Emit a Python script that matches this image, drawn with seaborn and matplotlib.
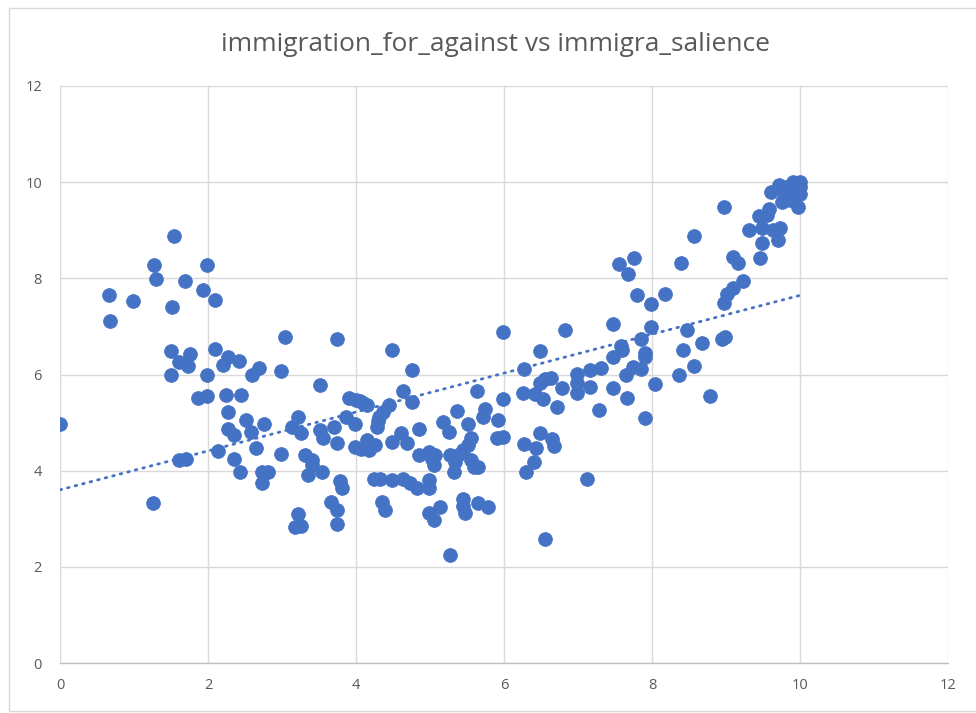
import numpy as np
import pandas as pd
import matplotlib
matplotlib.use("Agg")
import matplotlib.pyplot as plt
import seaborn as sns

# immigra_salience (x) values
salience = [
    0.00, 0.66, 0.68, 0.99, 1.25, 1.27, 1.30, 1.50, 1.50, 1.52, 1.54, 1.61, 1.61, 1.69, 1.70,
    1.73, 1.75, 1.86, 1.93, 1.99, 1.99, 1.99, 2.10, 2.10, 2.14, 2.20, 2.24, 2.27, 2.27, 2.27,
    2.35, 2.35, 2.42, 2.43, 2.45, 2.52, 2.58, 2.59, 2.65, 2.69, 2.73, 2.73, 2.76, 2.81, 2.98,
    2.98,
    3.04, 3.74, 4.49, 4.75, 3.52, 3.91, 4.00, 4.10, 4.15, 4.64, 4.75, 4.44, 4.37, 4.31, 5.36,
    3.21, 3.86, 3.14, 3.25, 3.52, 3.70, 3.56, 3.99, 4.28, 4.85, 5.18, 5.25, 3.74, 3.99, 4.15,
    4.17, 4.26, 4.49, 4.61, 4.69, 3.31, 3.41, 3.41, 3.35, 3.54, 4.85, 4.98, 5.07, 5.05, 5.27,
    5.34, 5.32, 5.45, 5.52, 3.79, 3.81, 4.24, 4.33, 4.49, 4.64, 4.73, 4.82, 4.98, 4.99, 3.66,
    3.74, 4.35, 4.39, 3.22, 3.18, 3.25, 3.74, 4.98, 5.14, 5.06, 5.27, 5.45, 5.45, 5.47,
    5.98, 6.83, 7.47, 6.48, 6.27, 5.64, 5.98, 5.52, 5.74, 5.71, 5.92, 5.90, 5.99, 5.56, 5.38,
    5.56, 5.59, 5.65, 6.26, 6.42, 6.53, 6.49, 6.55, 6.63, 6.72, 6.79, 6.98, 6.98, 6.98, 7.16,
    7.31, 7.16, 7.47, 7.28, 7.47, 7.58, 7.59, 7.65, 7.74, 7.66, 6.27, 6.43, 6.48, 6.65, 6.68,
    6.41, 6.30, 7.12, 5.65, 5.78, 6.56,
    7.76, 7.56, 7.68, 8.39, 8.57, 8.97, 9.09, 9.16, 9.46, 9.23, 9.10, 9.02, 8.97, 7.80, 8.18,
    7.98, 7.98, 8.47, 7.85, 7.90, 7.90, 8.68, 8.95, 8.98, 8.42, 7.85, 8.37, 8.57, 8.04, 8.78,
    7.90,
    9.31, 9.49, 9.63, 9.73, 9.70, 9.49, 9.44, 9.56,
    9.72, 9.90, 9.97, 9.61, 9.79, 9.83, 9.76, 9.87, 9.97, 9.58,
    10.00, 9.93, 9.85, 10.00, 9.80, 9.90, 10.00,
    4.05, 4.30, 4.07, 5.03,
]

# immigration_for_against (y) values
for_against = [
    4.98, 7.65, 7.12, 7.53, 3.32, 8.27, 7.98, 6.49, 5.99, 7.40, 8.88, 6.26, 4.23, 7.94, 4.25,
    6.18, 6.42, 5.52, 7.75, 8.27, 5.99, 5.56, 7.55, 6.52, 4.41, 6.20, 5.57, 6.37, 5.21, 4.86,
    4.74, 4.25, 6.28, 3.98, 5.57, 5.05, 4.81, 5.99, 4.48, 6.14, 3.98, 3.74, 4.98, 3.98, 6.08,
    4.35,
    6.77, 6.74, 6.51, 6.09, 5.79, 5.52, 5.47, 5.41, 5.36, 5.66, 5.43, 5.36, 5.22, 5.12, 5.24,
    5.12, 5.12, 4.91, 4.78, 4.84, 4.91, 4.67, 4.98, 4.91, 4.86, 5.02, 4.81, 4.57, 4.50, 4.64,
    4.43, 4.53, 4.60, 4.78, 4.57, 4.32, 4.22, 4.12, 3.91, 3.98, 4.32, 4.39, 4.32, 4.12, 4.32,
    4.19, 3.98, 4.43, 4.53, 3.79, 3.63, 3.82, 3.82, 3.80, 3.82, 3.74, 3.64, 3.80, 3.64, 3.35,
    3.18, 3.35, 3.19, 3.10, 2.82, 2.85, 2.89, 3.12, 3.24, 2.97, 2.25, 3.42, 3.26, 3.11,
    6.89, 6.92, 7.06, 6.49, 6.11, 5.66, 5.49, 4.98, 5.29, 5.12, 5.05, 4.67, 4.70, 4.67, 4.32,
    4.23, 4.08, 4.08, 5.61, 5.59, 5.49, 5.83, 5.90, 5.92, 5.32, 5.71, 6.01, 5.83, 5.62, 6.09,
    6.13, 5.75, 5.71, 5.26, 6.36, 6.59, 6.51, 5.99, 6.16, 5.52, 4.55, 4.48, 4.78, 4.65, 4.51,
    4.19, 3.98, 3.82, 3.32, 3.24, 2.57,
    8.43, 8.29, 8.09, 8.32, 8.88, 9.49, 8.45, 8.31, 8.43, 7.94, 7.79, 7.67, 7.48, 7.65, 7.67,
    7.46, 6.99, 6.92, 6.74, 6.45, 6.36, 6.65, 6.73, 6.77, 6.51, 6.11, 5.99, 6.18, 5.80, 5.56,
    5.09,
    9.00, 9.04, 9.00, 9.04, 8.79, 8.74, 9.29, 9.31,
    9.94, 10.01, 9.87, 9.80, 9.77, 9.83, 9.59, 9.63, 9.49, 9.45,
    10.00, 9.93, 9.85, 9.90, 9.90, 9.70, 9.75,
    5.45, 5.03, 4.46, 4.25,
]

title_text = "immigration_for_against vs immigra_salience"
x_ticks = [0, 2, 4, 6, 8, 10, 12]
y_ticks = [0, 2, 4, 6, 8, 10, 12]

df = pd.DataFrame({"immigra_salience": salience, "immigration_for_against": for_against})

sns.set_theme(style="white")
plt.rcParams["font.family"] = ["Open Sans", "DejaVu Sans"]

fig = plt.figure(figsize=(9.76, 7.13), dpi=100)
ax = fig.add_axes([0.0615, 0.0701, 0.9098, 0.8093])

blue = "#4472C4"
sns.scatterplot(data=df, x="immigra_salience", y="immigration_for_against", ax=ax,
                color=blue, s=100, edgecolor=blue, linewidth=0.5, zorder=3, legend=False)
sns.regplot(data=df, x="immigra_salience", y="immigration_for_against", ax=ax,
            scatter=False, ci=None, truncate=True,
            line_kws=dict(color=blue, lw=2.0, linestyle=(0, (0.6, 2.2)),
                          dash_capstyle="round", zorder=4))

ax.set_xlim(0, 12)
ax.set_ylim(0, 12)
ax.set_xticks(x_ticks)
ax.set_yticks(y_ticks)
ax.set_xticklabels([str(t) for t in x_ticks])
ax.set_yticklabels([str(t) for t in y_ticks])
ax.grid(True, color="#D9D9D9", lw=1.0)
ax.set_axisbelow(True)
for side in ["top", "right", "left"]:
    ax.spines[side].set_visible(False)
ax.spines["bottom"].set_color("#BFBFBF")
ax.spines["bottom"].set_linewidth(1.0)
ax.tick_params(axis="both", length=0, labelsize=10.5, labelcolor="#595959")
ax.tick_params(axis="x", pad=11)
ax.tick_params(axis="y", pad=13)
ax.set_xlabel("")
ax.set_ylabel("")

fig.text(0.508, 0.938, title_text, ha="center", va="center", fontsize=19, color="#595959")

border = plt.Rectangle((0.009, 0.003), 1.2, 0.986, transform=fig.transFigure,
                       fill=False, edgecolor="#D9D9D9", lw=1.0)
fig.patches.append(border)

fig.savefig("out.png", dpi=100)
